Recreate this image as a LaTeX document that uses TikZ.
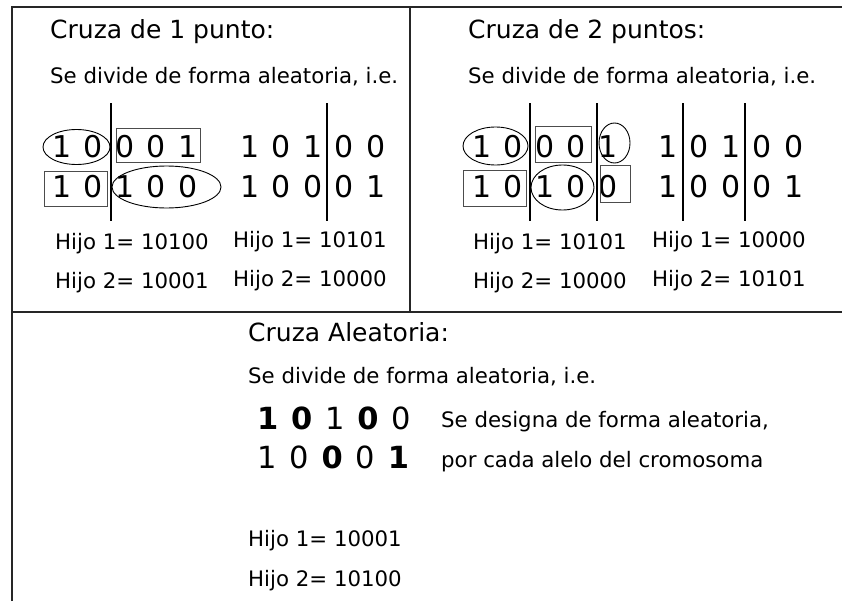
\documentclass[tikz,border=0pt]{standalone}
\usepackage{fontspec}
\setmainfont{DejaVu Sans}

\begin{document}
\begin{tikzpicture}[x=1pt,y=-1pt,
  title/.style={anchor=base west,inner sep=0pt,font=\fontsize{25}{30}\selectfont},
  txt/.style={anchor=base west,inner sep=0pt,font=\fontsize{21.3}{26}\selectfont},
  bit/.style={anchor=base,inner sep=0pt,font=\fontsize{30}{36}\selectfont},
  rowbits/.style={anchor=base west,inner sep=0pt,font=\fontsize{30.5}{36}\selectfont},
  frame/.style={line width=1.6pt,black!85},
  cut/.style={line width=1.2pt},
  ring/.style={line width=0.9pt},
  box/.style={line width=0.9pt,black!70}]
  \useasboundingbox (0,0) rectangle (842,602);

  \draw[frame] (12,601) -- (12,7) -- (842,7);
  \draw[frame] (12,312) -- (842,312);
  \draw[frame] (410,7) -- (410,312);

  \node[title] (t1) at (50,38) {Cruza de 1 punto:};
  \node[txt] (s1) at (50,83) {Se divide de forma aleatoria, i.e.};
  \node[title] (t2) at (468,38) {Cruza de 2 puntos:};
  \node[txt] (s2) at (468,83) {Se divide de forma aleatoria, i.e.};

  \foreach \blk/\x/\bitsA/\bitsB in {pa/62/{1,0,0,0,1}/{1,0,1,0,0},
      pb/250/{1,0,1,0,0}/{1,0,0,0,1},
      qa/482/{1,0,0,0,1}/{1,0,1,0,0},
      qb/668/{1,0,1,0,0}/{1,0,0,0,1}} {
    \foreach \v [count=\i] in \bitsA
      \node[bit] (\blk u\i) at ({\x+(\i-1)*31.5},157) {\v};
    \foreach \v [count=\i] in \bitsB
      \node[bit] (\blk d\i) at ({\x+(\i-1)*31.5},197) {\v};
  }

  \foreach \x in {111,327,530,597,683,745}
    \draw[cut] (\x,103) -- (\x,221);

  \draw[ring] (76.5,147) ellipse [x radius=33.5,y radius=17.5];
  \draw[box] (116,128) rectangle (200,162);
  \draw[box] (44,171) rectangle (107,206);
  \draw[ring] (166.5,187) ellipse [x radius=54.5,y radius=21];

  \draw[ring] (495.5,146) ellipse [x radius=32.5,y radius=19];
  \draw[box] (535,126) rectangle (591,162);
  \draw[ring] (614.5,143) ellipse [x radius=15.5,y radius=20];
  \draw[box] (463,170) rectangle (526,206);
  \draw[ring] (562.5,187.5) ellipse [x radius=31.5,y radius=22.5];
  \draw[box] (600,165) rectangle (630,202);

  \node[txt] (pah1) at (55,249) {Hijo 1= 10100};
  \node[txt] (pah2) at (55,288) {Hijo 2= 10001};
  \node[txt] (pbh1) at (233,247) {Hijo 1= 10101};
  \node[txt] (pbh2) at (233,286) {Hijo 2= 10000};
  \node[txt] (qah1) at (473,249) {Hijo 1= 10101};
  \node[txt] (qah2) at (473,288) {Hijo 2= 10000};
  \node[txt] (qbh1) at (652,247) {Hijo 1= 10000};
  \node[txt] (qbh2) at (652,286) {Hijo 2= 10101};

  \node[title] (t3) at (248,341) {Cruza Aleatoria:};
  \node[txt] (s3) at (248,383) {Se divide de forma aleatoria, i.e.};
  \node[rowbits] (ru) at (257,429)
    {\textbf{1}\hspace{0.42em}\textbf{0}\hspace{0.42em}1\hspace{0.42em}\textbf{0}\hspace{0.42em}0};
  \node[rowbits] (rd) at (257,468)
    {1\hspace{0.42em}0\hspace{0.42em}\textbf{0}\hspace{0.42em}0\hspace{0.42em}\textbf{1}};
  \node[txt] (n1) at (441,427) {Se designa de forma aleatoria,};
  \node[txt] (n2) at (441,467) {por cada alelo del cromosoma};
  \node[txt] (rh1) at (248,546) {Hijo 1= 10001};
  \node[txt] (rh2) at (248,586) {Hijo 2= 10100};
\end{tikzpicture}
\end{document}
